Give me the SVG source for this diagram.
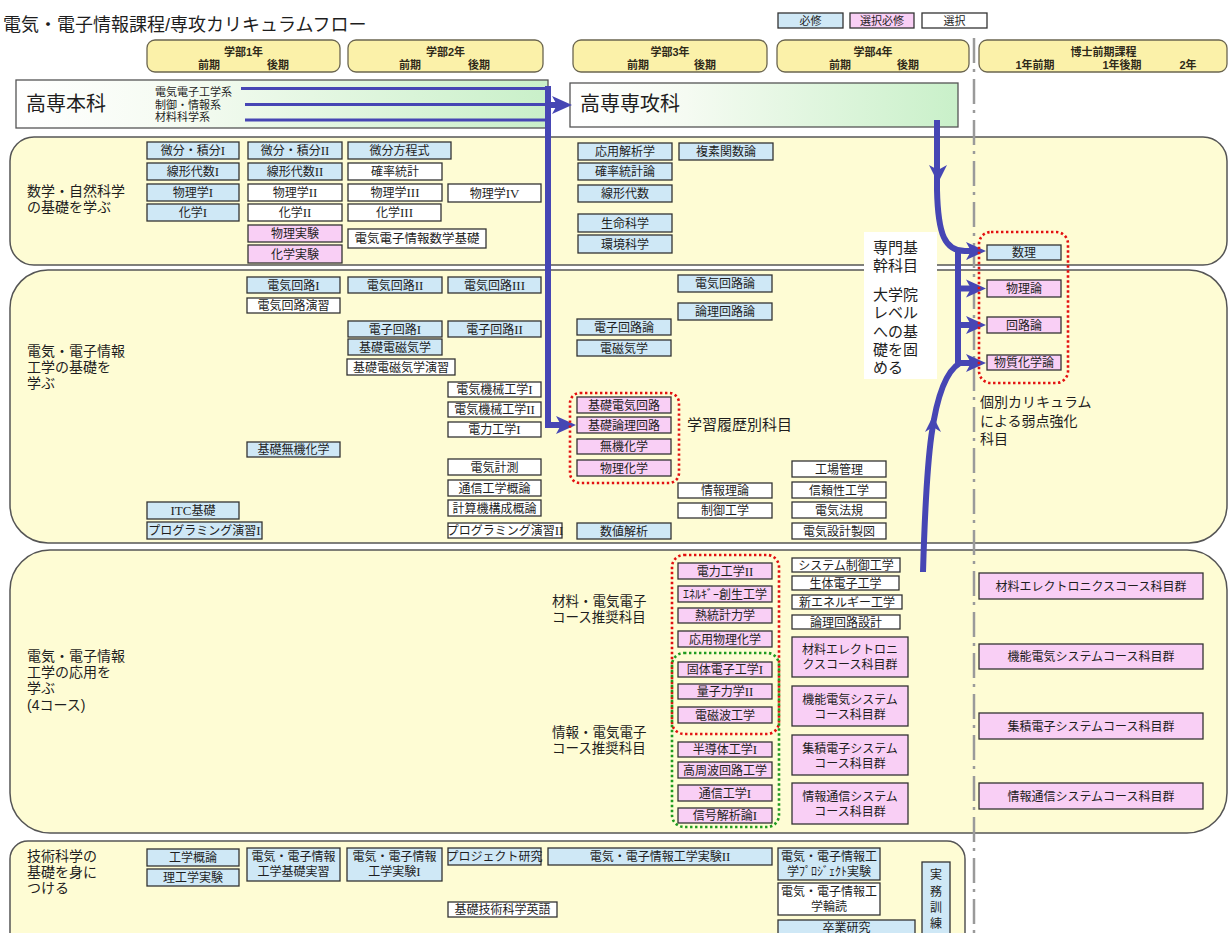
<svg xmlns="http://www.w3.org/2000/svg" width="1229" height="933" viewBox="0 0 1229 933">
<defs>
<linearGradient id="gg" x1="0" y1="0" x2="1" y2="0">
<stop offset="0" stop-color="#ffffff"/>
<stop offset="0.3" stop-color="#f5fbf2"/>
<stop offset="1" stop-color="#c9f0c9"/>
</linearGradient>
<marker id="ah" markerUnits="userSpaceOnUse" markerWidth="22" markerHeight="20" refX="5" refY="9" orient="auto" overflow="visible">
<path d="M0,0 L20,9 L0,18 L5,9 z" fill="#4646b4"/>
</marker>
</defs>
<style>
text{font-family:"Liberation Sans","Noto Sans CJK JP","Noto Sans CJK SC",sans-serif;fill:#1e1e1e}
.t{font-size:12px;text-anchor:middle}
.rn{font-family:"Liberation Serif",serif;font-size:13px}
.b{stroke:#333;stroke-width:1.3}
.rq{fill:#cfe8f6}
.sr{fill:#f9cff5}
.op{fill:#fff}
.sec{fill:#fefcd4;stroke:#555;stroke-width:1.5}
.hd{fill:#fbf1a9;stroke:#6b6650;stroke-width:1.3}
.ht{font-size:11px;font-weight:bold;text-anchor:middle;fill:#2f2a1a}
.lb{font-size:14px}
.cl{font-size:13.5px}
.nt{font-size:15px}
.sm{font-size:11px}
.dr{fill:none;stroke:#e31010;stroke-width:2.6;stroke-dasharray:2.4 2.6}
.dg{fill:none;stroke:#1f9a1f;stroke-width:2.6;stroke-dasharray:2.4 2.6}
.cn{fill:none;stroke:#4646b4;stroke-width:6}
.cn3{fill:none;stroke:#4646b4;stroke-width:3}
.ahd{fill:#4646b4}
</style>
<rect width="1229" height="933" fill="#fff"/>

<g id="title"><text x="3" y="31" style="font-size:18px">電気・電子情報課程/専攻カリキュラムフロー</text></g>

<g id="legend">
<g id="lg-req"><rect class="b rq" x="778" y="13" width="65" height="15"/><text class="t" style="font-size:11px" x="810.5" y="24.5">必修</text></g>
<g id="lg-selreq"><rect class="b sr" x="850" y="13" width="64" height="15"/><text class="t" style="font-size:11px" x="882" y="24.5">選択必修</text></g>
<g id="lg-sel"><rect class="b op" x="922" y="13" width="65" height="15"/><text class="t" style="font-size:11px" x="954.5" y="24.5">選択</text></g>
</g>

<g id="sections">
<g id="sec1"><rect class="sec" x="10" y="137" width="1217" height="128" rx="24"/>
<text class="lb"><tspan x="27" y="196">数学・自然科学</tspan><tspan x="27" y="212">の基礎を学ぶ</tspan></text></g>
<g id="sec2"><rect class="sec" x="10" y="270" width="1217" height="273" rx="38"/>
<text class="lb"><tspan x="27" y="356">電気・電子情報</tspan><tspan x="27" y="372">工学の基礎を</tspan><tspan x="27" y="388">学ぶ</tspan></text></g>
<g id="sec3"><rect class="sec" x="10" y="550" width="1217" height="283" rx="40"/>
<text class="lb"><tspan x="27" y="661">電気・電子情報</tspan><tspan x="27" y="677">工学の応用を</tspan><tspan x="27" y="693">学ぶ</tspan><tspan x="27" y="710">(4コース)</tspan></text></g>
<g id="sec4"><rect class="sec" x="10" y="841" width="955" height="110" rx="18"/>
<text class="lb"><tspan x="27" y="861">技術科学の</tspan><tspan x="27" y="877">基礎を身に</tspan><tspan x="27" y="893">つける</tspan></text></g>
</g>

<g id="headers">
<g id="h1"><rect class="hd" x="147" y="40" width="193" height="32" rx="8"/><text class="ht"><tspan x="243.5" y="55.5">学部1年</tspan><tspan x="209" y="69">前期</tspan><tspan x="278" y="69">後期</tspan></text></g>
<g id="h2"><rect class="hd" x="348" y="40" width="195" height="32" rx="8"/><text class="ht"><tspan x="445.5" y="55.5">学部2年</tspan><tspan x="410" y="69">前期</tspan><tspan x="479" y="69">後期</tspan></text></g>
<g id="h3"><rect class="hd" x="573" y="40" width="194" height="32" rx="8"/><text class="ht"><tspan x="670" y="55.5">学部3年</tspan><tspan x="638" y="69">前期</tspan><tspan x="705" y="69">後期</tspan></text></g>
<g id="h4"><rect class="hd" x="777" y="40" width="192" height="32" rx="8"/><text class="ht"><tspan x="873" y="55.5">学部4年</tspan><tspan x="840" y="69">前期</tspan><tspan x="908" y="69">後期</tspan></text></g>
<g id="h5"><rect class="hd" x="979" y="40" width="248" height="32" rx="8"/><text class="ht"><tspan x="1103.5" y="55.5">博士前期課程</tspan><tspan x="1035" y="69">1年前期</tspan><tspan x="1122" y="69">1年後期</tspan><tspan x="1188" y="69">2年</tspan></text></g>
</g>

<g id="separator"><line x1="974" y1="38" x2="974" y2="933" stroke="#9a9a9a" stroke-width="2.5" stroke-dasharray="25 6 3 7"/></g>

<g id="note-kikan"><rect x="864" y="232" width="73" height="147" fill="#fff"/>
<text class="nt"><tspan x="873" y="253">専門基</tspan><tspan x="873" y="271">幹科目</tspan></text>
<text class="nt"><tspan x="873" y="300">大学院</tspan><tspan x="873" y="318">レベル</tspan><tspan x="873" y="337">への基</tspan><tspan x="873" y="355">礎を固</tspan><tspan x="873" y="373">める</tspan></text></g>

<g id="kosen-honka"><rect x="16" y="80" width="532" height="48" fill="url(#gg)" stroke="#555" stroke-width="1.3"/>
<text x="26" y="111" style="font-size:20px">高専本科</text>
<text class="sm"><tspan x="155" y="96">電気電子工学系</tspan><tspan x="155" y="108.5">制御・情報系</tspan><tspan x="155" y="121">材料科学系</tspan></text></g>
<g id="kosen-senkouka"><rect x="570" y="83" width="388" height="44" fill="url(#gg)" stroke="#555" stroke-width="1.3"/>
<text x="580" y="111" style="font-size:20px">高専専攻科</text></g>

<g id="connectors">
<line class="cn3" x1="241" y1="88.5" x2="548" y2="88.5"/>
<line class="cn3" x1="245" y1="104.5" x2="548" y2="104.5"/>
<line class="cn3" x1="245" y1="120" x2="548" y2="120"/>
<path class="cn" d="M548,86 L548,425 L561,425" marker-end="url(#ah)"/>
<path class="cn" d="M548,105 L557,105" marker-end="url(#ah)"/>
<path class="cn" d="M937,120 L937,190 C938,235 945,251 965,251 L971,251" marker-end="url(#ah)"/>
<polygon class="ahd" points="929,165 938,170 947,165 938,183"/>
<path class="cn" d="M958,251 L958,363"/>
<path class="cn" d="M958,288.5 L971,288.5" marker-end="url(#ah)"/>
<path class="cn" d="M958,325 L971,325" marker-end="url(#ah)"/>
<path class="cn" d="M923,572 C926,470 930,380 960,363 L971,363" marker-end="url(#ah)"/>
<polygon class="ahd" points="925,432 933,427 941,432 933,416"/>
</g>

<g id="groups">
<rect class="dr" x="570" y="393" width="109" height="90" rx="10"/>
<rect class="dr" x="979" y="232" width="89" height="151" rx="12"/>
<rect class="dr" x="672" y="555" width="107" height="179" rx="12"/>
<rect class="dg" x="672" y="653" width="107" height="174" rx="12"/>
</g>

<g id="labels">
<text x="687" y="430" style="font-size:15px">学習履歴別科目</text>
<text class="lb"><tspan x="980" y="407">個別カリキュラム</tspan><tspan x="980" y="426">による弱点強化</tspan><tspan x="980" y="444">科目</tspan></text>
<text class="cl"><tspan x="552" y="606">材料・電気電子</tspan><tspan x="552" y="622">コース推奨科目</tspan></text>
<text class="cl"><tspan x="552" y="737">情報・電気電子</tspan><tspan x="552" y="753">コース推奨科目</tspan></text>
</g>

<g id="nodes-sec1">
<g id="n-bibun1"><rect class="b rq" x="147" y="142" width="92" height="17"/><text class="t" x="193" y="155">微分・積分<tspan class="rn">I</tspan></text></g>
<g id="n-senkei1"><rect class="b rq" x="147" y="163" width="92" height="17"/><text class="t" x="193" y="176">線形代数<tspan class="rn">I</tspan></text></g>
<g id="n-butsuri1"><rect class="b rq" x="147" y="184" width="92" height="17"/><text class="t" x="193" y="197">物理学<tspan class="rn">I</tspan></text></g>
<g id="n-kagaku1"><rect class="b rq" x="147" y="204" width="92" height="17"/><text class="t" x="193" y="217">化学<tspan class="rn">I</tspan></text></g>
<g id="n-bibun2"><rect class="b rq" x="248" y="142" width="94" height="17"/><text class="t" x="295" y="155">微分・積分<tspan class="rn">II</tspan></text></g>
<g id="n-senkei2"><rect class="b rq" x="248" y="163" width="94" height="17"/><text class="t" x="295" y="176">線形代数<tspan class="rn">II</tspan></text></g>
<g id="n-butsuri2"><rect class="b op" x="248" y="184" width="94" height="17"/><text class="t" x="295" y="197">物理学<tspan class="rn">II</tspan></text></g>
<g id="n-kagaku2"><rect class="b op" x="248" y="204" width="94" height="17"/><text class="t" x="295" y="217">化学<tspan class="rn">II</tspan></text></g>
<g id="n-butsurijikken"><rect class="b sr" x="248" y="225" width="94" height="17"/><text class="t" x="295" y="238">物理実験</text></g>
<g id="n-kagakujikken"><rect class="b sr" x="248" y="245" width="94" height="18"/><text class="t" x="295" y="258.5">化学実験</text></g>
<g id="n-bibunhoutei"><rect class="b rq" x="348" y="142" width="103" height="17"/><text class="t" x="399.5" y="155">微分方程式</text></g>
<g id="n-kakuritsu"><rect class="b op" x="348" y="163" width="94" height="17"/><text class="t" x="395" y="176">確率統計</text></g>
<g id="n-butsuri3"><rect class="b op" x="348" y="184" width="94" height="17"/><text class="t" x="395" y="197">物理学<tspan class="rn">III</tspan></text></g>
<g id="n-kagaku3"><rect class="b op" x="348" y="204" width="93" height="17"/><text class="t" x="394.5" y="217">化学<tspan class="rn">III</tspan></text></g>
<g id="n-butsuri4"><rect class="b op" x="448" y="184" width="93" height="18"/><text class="t" x="494.5" y="197.5">物理学<tspan class="rn">IV</tspan></text></g>
<g id="n-suugakukiso"><rect class="b op" x="348" y="229" width="138" height="19"/><text class="t" style="font-size:12.5px" x="417" y="243">電気電子情報数学基礎</text></g>
<g id="n-ouyoukaiseki"><rect class="b rq" x="578" y="143" width="94" height="17"/><text class="t" x="625" y="156">応用解析学</text></g>
<g id="n-fukuso"><rect class="b rq" x="679" y="143" width="94" height="17"/><text class="t" x="726" y="156">複素関数論</text></g>
<g id="n-kakuritsuron"><rect class="b rq" x="578" y="163" width="94" height="17"/><text class="t" x="625" y="176">確率統計論</text></g>
<g id="n-senkeidaisuu"><rect class="b rq" x="578" y="185" width="94" height="17"/><text class="t" x="625" y="198">線形代数</text></g>
<g id="n-seimei"><rect class="b rq" x="578" y="214" width="94" height="18"/><text class="t" x="625" y="227.5">生命科学</text></g>
<g id="n-kankyou"><rect class="b rq" x="578" y="235" width="94" height="18"/><text class="t" x="625" y="248.5">環境科学</text></g>
</g>

<g id="nodes-sec2">
<g id="n-denki1"><rect class="b rq" x="247" y="277" width="93" height="16"/><text class="t" x="293.5" y="289.5">電気回路<tspan class="rn">I</tspan></text></g>
<g id="n-denkienshu"><rect class="b op" x="247" y="298" width="93" height="15"/><text class="t" x="293.5" y="310">電気回路演習</text></g>
<g id="n-denki2"><rect class="b rq" x="348" y="277" width="94" height="16"/><text class="t" x="395" y="289.5">電気回路<tspan class="rn">II</tspan></text></g>
<g id="n-denki3"><rect class="b rq" x="448" y="277" width="93" height="16"/><text class="t" x="494.5" y="289.5">電気回路<tspan class="rn">III</tspan></text></g>
<g id="n-denshi1"><rect class="b rq" x="348" y="321" width="94" height="16"/><text class="t" x="395" y="333.5">電子回路<tspan class="rn">I</tspan></text></g>
<g id="n-denshi2"><rect class="b rq" x="448" y="321" width="93" height="16"/><text class="t" x="494.5" y="333.5">電子回路<tspan class="rn">II</tspan></text></g>
<g id="n-kisodenji"><rect class="b rq" x="348" y="339" width="94" height="16"/><text class="t" x="395" y="351.5">基礎電磁気学</text></g>
<g id="n-kisodenjienshu"><rect class="b op" x="347" y="359" width="108" height="16"/><text class="t" x="401" y="371.5">基礎電磁気学演習</text></g>
<g id="n-kikai1"><rect class="b op" x="448" y="382" width="93" height="15"/><text class="t" x="494.5" y="394">電気機械工学<tspan class="rn">I</tspan></text></g>
<g id="n-kikai2"><rect class="b op" x="448" y="402" width="93" height="15"/><text class="t" x="494.5" y="414">電気機械工学<tspan class="rn">II</tspan></text></g>
<g id="n-denryoku1"><rect class="b op" x="448" y="422" width="93" height="15"/><text class="t" x="494.5" y="434">電力工学<tspan class="rn">I</tspan></text></g>
<g id="n-keisoku"><rect class="b op" x="448" y="459" width="93" height="16"/><text class="t" x="494.5" y="471.5">電気計測</text></g>
<g id="n-tsushingairon"><rect class="b op" x="448" y="480" width="93" height="16"/><text class="t" x="494.5" y="492.5">通信工学概論</text></g>
<g id="n-keisanki"><rect class="b op" x="448" y="500" width="93" height="16"/><text class="t" x="494.5" y="512.5">計算機構成概論</text></g>
<g id="n-prog2"><rect class="b op" x="448" y="523" width="114" height="15"/><text class="t" x="505" y="535">プログラミング演習<tspan class="rn">II</tspan></text></g>
<g id="n-kisomuki"><rect class="b rq" x="247" y="442" width="93" height="15"/><text class="t" x="293.5" y="454">基礎無機化学</text></g>
<g id="n-itc"><rect class="b rq" x="147" y="502" width="92" height="17"/><text class="t" x="193" y="515"><tspan class="rn">ITC</tspan>基礎</text></g>
<g id="n-prog1"><rect class="b rq" x="147" y="522" width="115" height="17"/><text class="t" x="204.5" y="535">プログラミング演習<tspan class="rn">I</tspan></text></g>
<g id="n-denshiron"><rect class="b rq" x="577" y="319" width="94" height="16"/><text class="t" x="624" y="331.5">電子回路論</text></g>
<g id="n-denjiki"><rect class="b rq" x="577" y="340" width="94" height="16"/><text class="t" x="624" y="352.5">電磁気学</text></g>
<g id="n-kisodenki"><rect class="b sr" x="577" y="397" width="94" height="16"/><text class="t" x="624" y="409.5">基礎電気回路</text></g>
<g id="n-kisoronri"><rect class="b sr" x="577" y="417" width="94" height="16"/><text class="t" x="624" y="429.5">基礎論理回路</text></g>
<g id="n-muki"><rect class="b sr" x="577" y="439" width="94" height="15"/><text class="t" x="624" y="451">無機化学</text></g>
<g id="n-butsurikagaku"><rect class="b sr" x="577" y="460" width="94" height="16"/><text class="t" x="624" y="472.5">物理化学</text></g>
<g id="n-denkiron"><rect class="b rq" x="678" y="275" width="94" height="17"/><text class="t" x="725" y="288">電気回路論</text></g>
<g id="n-ronriron"><rect class="b rq" x="678" y="303" width="94" height="17"/><text class="t" x="725" y="316">論理回路論</text></g>
<g id="n-suuchi"><rect class="b rq" x="577" y="523" width="94" height="16"/><text class="t" x="624" y="535.5">数値解析</text></g>
<g id="n-jouhou"><rect class="b op" x="678" y="483" width="94" height="15"/><text class="t" x="725" y="495">情報理論</text></g>
<g id="n-seigyo"><rect class="b op" x="678" y="503" width="94" height="15"/><text class="t" x="725" y="515">制御工学</text></g>
<g id="n-koujou"><rect class="b op" x="792" y="461" width="94" height="16"/><text class="t" x="839" y="473.5">工場管理</text></g>
<g id="n-shinrai"><rect class="b op" x="792" y="482" width="94" height="16"/><text class="t" x="839" y="494.5">信頼性工学</text></g>
<g id="n-houki"><rect class="b op" x="792" y="502" width="94" height="16"/><text class="t" x="839" y="514.5">電気法規</text></g>
<g id="n-sekkei"><rect class="b op" x="792" y="523" width="94" height="16"/><text class="t" x="839" y="535.5">電気設計製図</text></g>
<g id="n-suuri"><rect class="b rq" x="987" y="245" width="74" height="15"/><text class="t" x="1024" y="257">数理</text></g>
<g id="n-butsuriron"><rect class="b sr" x="987" y="280" width="74" height="17"/><text class="t" x="1024" y="293">物理論</text></g>
<g id="n-kairoron"><rect class="b sr" x="987" y="317" width="74" height="16"/><text class="t" x="1024" y="329.5">回路論</text></g>
<g id="n-busshitsu"><rect class="b sr" x="987" y="355" width="74" height="15"/><text class="t" x="1024" y="367">物質化学論</text></g>
</g>

<g id="nodes-sec3">
<g id="n-denryoku2"><rect class="b sr" x="678" y="563" width="94" height="16"/><text class="t" x="725" y="575.5">電力工学<tspan class="rn">II</tspan></text></g>
<g id="n-energy"><rect class="b sr" x="678" y="586" width="94" height="16"/><text class="t" x="725" y="598.5">ｴﾈﾙｷﾞｰ創生工学</text></g>
<g id="n-netsutoukei"><rect class="b sr" x="678" y="608" width="94" height="15"/><text class="t" x="725" y="620">熱統計力学</text></g>
<g id="n-ouyoubutsuri"><rect class="b sr" x="678" y="631" width="94" height="16"/><text class="t" x="725" y="643.5">応用物理化学</text></g>
<g id="n-kotai"><rect class="b sr" x="678" y="662" width="94" height="15"/><text class="t" x="725" y="674">固体電子工学<tspan class="rn">I</tspan></text></g>
<g id="n-ryoushi"><rect class="b sr" x="678" y="684" width="94" height="15"/><text class="t" x="725" y="696">量子力学<tspan class="rn">II</tspan></text></g>
<g id="n-denjiha"><rect class="b sr" x="678" y="707" width="94" height="16"/><text class="t" x="725" y="719.5">電磁波工学</text></g>
<g id="n-handoutai"><rect class="b sr" x="678" y="742" width="94" height="15"/><text class="t" x="725" y="754">半導体工学<tspan class="rn">I</tspan></text></g>
<g id="n-koushuuha"><rect class="b sr" x="678" y="762" width="94" height="16"/><text class="t" x="725" y="774.5">高周波回路工学</text></g>
<g id="n-tsushin1"><rect class="b sr" x="678" y="785" width="94" height="16"/><text class="t" x="725" y="797.5">通信工学<tspan class="rn">I</tspan></text></g>
<g id="n-shingou"><rect class="b sr" x="678" y="808" width="94" height="15"/><text class="t" x="725" y="820">信号解析論<tspan class="rn">I</tspan></text></g>
<g id="n-system"><rect class="b op" x="792" y="558" width="108" height="14"/><text class="t" x="846" y="569.5">システム制御工学</text></g>
<g id="n-seitai"><rect class="b op" x="792" y="576" width="107" height="14"/><text class="t" x="845.5" y="587.5">生体電子工学</text></g>
<g id="n-shinenergy"><rect class="b op" x="792" y="595" width="110" height="14"/><text class="t" x="847" y="606.5">新エネルギー工学</text></g>
<g id="n-ronrisekkei"><rect class="b op" x="792" y="615" width="108" height="14"/><text class="t" x="846" y="626.5">論理回路設計</text></g>
<g id="n-zairyou-g"><rect class="b sr" x="792" y="637" width="116" height="40"/><text class="t"><tspan x="850" y="654">材料エレクトロニ</tspan><tspan x="850" y="669">クスコース科目群</tspan></text></g>
<g id="n-kinou-g"><rect class="b sr" x="792" y="686" width="116" height="40"/><text class="t"><tspan x="850" y="704">機能電気システム</tspan><tspan x="850" y="719">コース科目群</tspan></text></g>
<g id="n-shuuseki-g"><rect class="b sr" x="792" y="735" width="116" height="40"/><text class="t"><tspan x="850" y="753">集積電子システム</tspan><tspan x="850" y="768">コース科目群</tspan></text></g>
<g id="n-jouhoutsushin-g"><rect class="b sr" x="792" y="783" width="116" height="41"/><text class="t"><tspan x="850" y="801">情報通信システム</tspan><tspan x="850" y="816">コース科目群</tspan></text></g>
<g id="n-m-zairyou"><rect class="b sr" x="979" y="573" width="224" height="26"/><text class="t" x="1091" y="590.5">材料エレクトロニクスコース科目群</text></g>
<g id="n-m-kinou"><rect class="b sr" x="979" y="644" width="224" height="25"/><text class="t" x="1091" y="661">機能電気システムコース科目群</text></g>
<g id="n-m-shuuseki"><rect class="b sr" x="979" y="713" width="224" height="26"/><text class="t" x="1091" y="730.5">集積電子システムコース科目群</text></g>
<g id="n-m-jouhou"><rect class="b sr" x="979" y="783" width="224" height="26"/><text class="t" x="1091" y="800.5">情報通信システムコース科目群</text></g>
</g>

<g id="nodes-sec4">
<g id="n-kougakugairon"><rect class="b rq" x="147" y="849" width="92" height="17"/><text class="t" x="193" y="862">工学概論</text></g>
<g id="n-rikoujikken"><rect class="b rq" x="147" y="869" width="92" height="17"/><text class="t" x="193" y="882">理工学実験</text></g>
<g id="n-kisojisshuu"><rect class="b rq" x="247" y="848" width="93" height="33"/><text class="t"><tspan x="293.5" y="861">電気・電子情報</tspan><tspan x="293.5" y="876">工学基礎実習</tspan></text></g>
<g id="n-jikken1"><rect class="b rq" x="347" y="848" width="95" height="33"/><text class="t"><tspan x="394.5" y="861">電気・電子情報</tspan><tspan x="394.5" y="876">工学実験<tspan class="rn">I</tspan></tspan></text></g>
<g id="n-project"><rect class="b rq" x="448" y="848" width="93" height="17"/><text class="t" x="494.5" y="861">プロジェクト研究</text></g>
<g id="n-jikken2"><rect class="b rq" x="548" y="848" width="224" height="17"/><text class="t" x="660" y="861">電気・電子情報工学実験<tspan class="rn">II</tspan></text></g>
<g id="n-eigo"><rect class="b op" x="448" y="902" width="109" height="15"/><text class="t" x="502.5" y="914">基礎技術科学英語</text></g>
<g id="n-projjikken"><rect class="b rq" x="778" y="848" width="102" height="32"/><text class="t"><tspan x="829" y="861">電気・電子情報工</tspan><tspan x="829" y="876">学ﾌﾟﾛｼﾞｪｸﾄ実験</tspan></text></g>
<g id="n-rindoku"><rect class="b op" x="778" y="883" width="102" height="32"/><text class="t"><tspan x="829" y="896">電気・電子情報工</tspan><tspan x="829" y="911">学輪読</tspan></text></g>
<g id="n-sotsuken"><rect class="b rq" x="778" y="920" width="137" height="25"/><text class="t" x="846.5" y="931.5">卒業研究</text></g>
<g id="n-jitsumu"><rect class="b rq" x="922" y="862" width="28" height="80"/><text class="t"><tspan x="936" y="879">実</tspan><tspan x="936" y="896">務</tspan><tspan x="936" y="912">訓</tspan><tspan x="936" y="928">練</tspan></text></g>
</g>
</svg>
